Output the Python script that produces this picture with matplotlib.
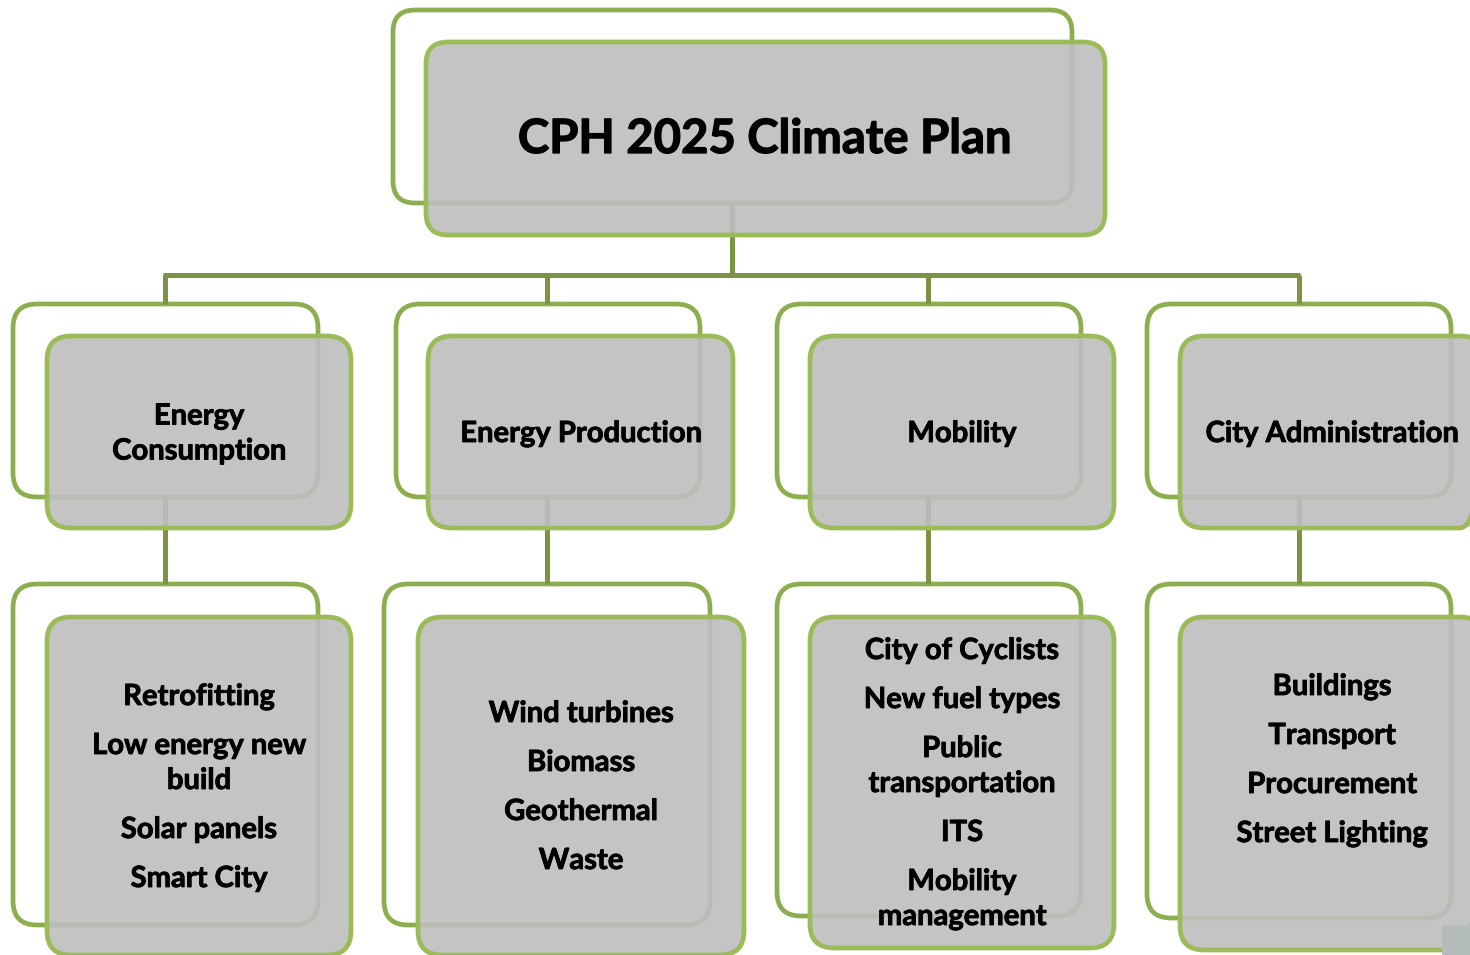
import matplotlib
matplotlib.use("Agg")
import matplotlib.pyplot as plt
from matplotlib.patches import FancyBboxPatch, Rectangle
import matplotlib.patheffects as pe

# ---- data ----
title = "CPH 2025 Climate Plan"
categories = ["Energy\nConsumption", "Energy Production", "Mobility", "City Administration"]
items = [
    ["Retrofitting", "Low energy new\nbuild", "Solar panels", "Smart City"],
    ["Wind turbines", "Biomass", "Geothermal", "Waste"],
    ["City of Cyclists", "New fuel types", "Public\ntransportation", "ITS", "Mobility\nmanagement"],
    ["Buildings", "Transport", "Procurement", "Street Lighting"],
]

# ---- layout (pixel coordinates, y downward) ----
W, H = 1470, 955
FONT = ["Lato", "DejaVu Sans"]
BACK_EDGE = "#8dae4f"
FRONT_EDGE = "#9bbb59"
LINK = "#7a9444"
FILL = "#bebebe"

fig = plt.figure(figsize=(W / 100, H / 100), dpi=100)
ax = fig.add_axes([0, 0, 1, 1])
ax.set_xlim(0, W)
ax.set_ylim(H, 0)
ax.axis("off")

def rbox(x0, y0, x1, y1, front, r=24):
    if front:
        p = FancyBboxPatch((x0, y0), x1 - x0, y1 - y0,
                           boxstyle=f"round,pad=0,rounding_size={r}",
                           facecolor=FILL, alpha=0.9, edgecolor="none", zorder=3)
        ax.add_patch(p)
        p2 = FancyBboxPatch((x0, y0), x1 - x0, y1 - y0,
                            boxstyle=f"round,pad=0,rounding_size={r}",
                            facecolor="none", edgecolor=FRONT_EDGE, lw=3.4, zorder=4)
        ax.add_patch(p2)
    else:
        p = FancyBboxPatch((x0, y0), x1 - x0, y1 - y0,
                           boxstyle=f"round,pad=0,rounding_size={r}",
                           facecolor="white", edgecolor=BACK_EDGE, lw=3.4, zorder=1)
        ax.add_patch(p)

def label(x, y, s, size, stroke=0.6):
    ax.text(x, y, s, ha="center", va="center", fontsize=size,
            fontweight="bold", family=FONT, zorder=5,
            path_effects=[pe.withStroke(linewidth=stroke, foreground="black")])

# top box
rbox(393, 10, 1072, 203, False, r=22)
rbox(426, 42, 1105, 235, True, r=22)
label(765, 139, title, 34, stroke=0.9)

# level geometry
back2 = [(13, 318), (396, 700), (777, 1081), (1147, 1451)]
front2 = [(47, 351), (428, 733), (810, 1114), (1180, 1484)]
back3 = [(13, 318, 925), (384, 710, 925), (777, 1081, 916), (1147, 1451, 918)]
front3 = [(47, 351, 955), (418, 744, 955), (810, 1114, 948), (1180, 1484, 950)]
link_x = [165, 547, 928, 1299]
text_x = [199, 581, 962, 1332]
start_y = [697, 714, 651, 687]
cat_y = 434

# connectors
ax.plot([732, 732], [205, 275], color=LINK, lw=3.6, zorder=2, solid_capstyle="butt")
ax.plot([link_x[0] - 1.5, link_x[-1] + 1.5], [275, 275], color=LINK, lw=3.6, zorder=2,
        solid_capstyle="butt")
for lx in link_x:
    ax.plot([lx, lx], [275, 304], color=LINK, lw=3.6, zorder=2, solid_capstyle="butt")
    ax.plot([lx, lx], [497, 584], color=LINK, lw=3.6, zorder=2, solid_capstyle="butt")

for i in range(4):
    rbox(back2[i][0], 304, back2[i][1], 497, False)
    rbox(front2[i][0], 336, front2[i][1], 528, True)
    clines = categories[i].split("\n")
    y0 = cat_y - 17.5 * (len(clines) - 1)
    for k, ln in enumerate(clines):
        label(text_x[i], y0 + 35 * k, ln, 21)

    rbox(back3[i][0], 584, back3[i][1], back3[i][2], False)
    rbox(front3[i][0], 617, front3[i][1], front3[i][2], True)
    y = start_y[i]
    for it in items[i]:
        lines = it.split("\n")
        for k, ln in enumerate(lines):
            label(text_x[i], y, ln, 21)
            if k < len(lines) - 1:
                y += 35
        y += 49

# small corner artifact
ax.add_patch(Rectangle((1442, 925), 28, 30, facecolor="#b4bcbc", edgecolor="none", zorder=6))

fig.savefig("out.png", dpi=100)
